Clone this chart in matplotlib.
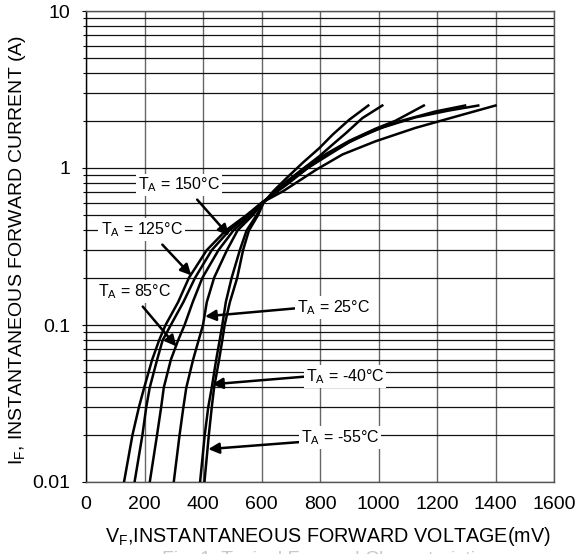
import numpy as np
import matplotlib.pyplot as plt
from matplotlib.ticker import FixedLocator, FixedFormatter, NullFormatter

plt.rcParams['font.family'] = ['Liberation Sans', 'DejaVu Sans']
plt.rcParams['mathtext.fontset'] = 'custom'
plt.rcParams['mathtext.rm'] = 'Liberation Sans'
plt.rcParams['mathtext.it'] = 'Liberation Sans'

############################################################ data
# currents (A) shared by the low-current part of every curve
i_low = [0.01, 0.02, 0.03, 0.04, 0.06, 0.08, 0.1, 0.14, 0.2, 0.3, 0.4, 0.5, 0.6]

v_150 = [130, 159, 181, 199, 226, 250, 272, 315, 352, 413, 478, 548, 600,
         673, 787, 877, 990, 1126, 1285, 1400]
i_150 = i_low + [0.71, 0.975, 1.22, 1.48, 1.8, 2.18, 2.5]

v_125 = [166, 193, 206, 218, 243, 262, 290, 333, 373, 430, 490, 555, 600,
         685, 764, 843, 922, 1013, 1126, 1239, 1341]
i_125 = i_low + [0.78, 1.02, 1.28, 1.54, 1.81, 2.1, 2.32, 2.5]

v_85 = [218, 243, 257, 266, 290, 315, 337, 365, 398, 453, 504, 563, 602,
        685, 758, 826, 900, 990, 1070, 1194, 1296]
i_85 = i_low + [0.8, 1.0, 1.2, 1.46, 1.75, 1.98, 2.29, 2.5]

v_25 = [300, 320, 333, 343, 366, 385, 400, 413, 438, 482, 518, 570, 603,
        685, 753, 821, 900, 990, 1058, 1155]
i_25 = i_low + [0.82, 1.02, 1.23, 1.49, 1.78, 2.0, 2.5]

v_m40 = [390, 406, 418, 430, 445, 457, 466, 478, 498, 526, 549, 583, 605,
         651, 730, 798, 843, 889, 945, 1013]
i_m40 = i_low + [0.71, 0.95, 1.19, 1.41, 1.67, 2.08, 2.5]

v_m55 = [405, 420, 430, 438, 455, 466, 474, 492, 517, 537, 557, 588, 607,
         640, 685, 741, 798, 843, 900, 965]
i_m55 = i_low + [0.71, 0.86, 1.08, 1.34, 1.63, 2.03, 2.5]

temps = ['150', '125', '85', '25', '-40', '-55']
curves = [(v_150, i_150), (v_125, i_125), (v_85, i_85),
          (v_25, i_25), (v_m40, i_m40), (v_m55, i_m55)]

# label text centre, arrow start, arrow tip (mV, A)
label_pos = [(317, 0.78), (190, 0.405), (166, 0.164), (846, 0.129), (886, 0.047), (869, 0.0193)]
arrow_from = [(380, 0.629), (261, 0.325), (194, 0.131), (713, 0.1275), (754, 0.047), (737, 0.018)]
arrow_to = [(489, 0.371), (360, 0.207), (309, 0.0731), (407, 0.1135), (431, 0.0419), (418, 0.0162)]

x_ticks = [0, 200, 400, 600, 800, 1000, 1200, 1400, 1600]
y_ticks = [0.01, 0.1, 1, 10]
y_ticklabels = ['0.01', '0.1', '1', '10']

############################################################ figure
fig = plt.figure(figsize=(5.8, 5.54), dpi=100)
ax = fig.add_axes([86/580, 1-482/554, 468/580, 471/554])

ax.set_yscale('log')
ax.set_xlim(0, 1600)
ax.set_ylim(0.01, 10)

for v, i in curves:
    ax.plot(v, i, color='black', lw=1.8, solid_joinstyle='round', zorder=3)

ax.xaxis.set_major_locator(FixedLocator(x_ticks))
ax.yaxis.set_major_locator(FixedLocator(y_ticks))
ax.yaxis.set_major_formatter(FixedFormatter(y_ticklabels))
minors = [m * d for d in [0.01, 0.1, 1] for m in range(2, 10)]
ax.yaxis.set_minor_locator(FixedLocator(minors))
ax.yaxis.set_minor_formatter(NullFormatter())

ax.grid(axis='y', which='both', color='#111111', lw=0.9)
ax.grid(axis='x', which='major', color='#666666', lw=1.0)
ax.tick_params(axis='x', length=0, pad=10, labelsize=14)
ax.tick_params(axis='y', which='both', length=3, width=0.8, direction='out', labelsize=14, pad=8)
ax.tick_params(axis='y', which='minor', length=2)
for s in ax.spines.values():
    s.set_color('#555555')
    s.set_linewidth(1.0)
ax.spines['left'].set_color('black')

for t, lp, af, at in zip(temps, label_pos, arrow_from, arrow_to):
    ax.annotate('', xy=at, xytext=af,
                arrowprops=dict(arrowstyle='-|>', color='black', lw=1.8,
                                mutation_scale=16, shrinkA=0, shrinkB=0),
                zorder=4)
    ax.text(lp[0], lp[1], 'T$_\\mathrm{A}$ = ' + t + '°C', fontsize=11.5,
            ha='center', va='center', zorder=5,
            bbox=dict(facecolor='white', edgecolor='none', pad=1.5))

fig.text(328/580, 1-536/554, 'V$_\\mathrm{F}$,INSTANTANEOUS FORWARD VOLTAGE(mV)',
         ha='center', va='center', fontsize=14.2)
fig.text(18/580, 1-250/554, 'I$_\\mathrm{F}$, INSTANTANEOUS FORWARD CURRENT (A)',
         ha='center', va='center', rotation=90, fontsize=14)
# caption of the datasheet figure, cut off by the bottom edge in the original
fig.text(328/580, 1-559/554, 'Fig. 1  Typical Forward Characteristics',
         ha='center', va='center', fontsize=14, color='#c8c8c8')

fig.savefig('out.png', dpi=100)
